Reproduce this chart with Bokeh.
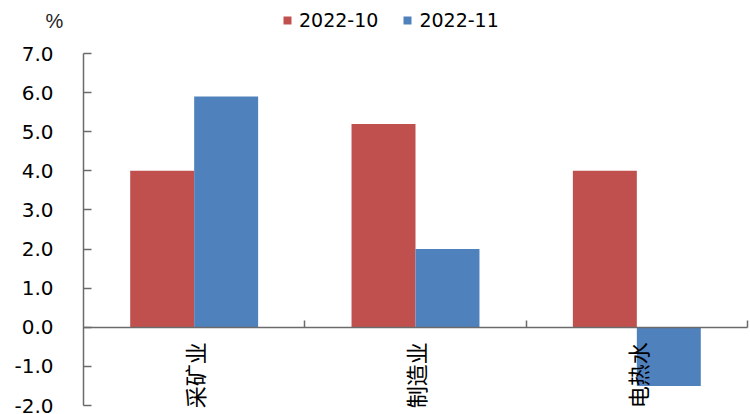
from math import pi
from bokeh.plotting import figure
from bokeh.models import (Range1d, LinearAxis, FixedTicker, Legend, LegendItem, Label,
                          ColumnDataSource, NumeralTickFormatter)
from bokeh.embed import file_html
from bokeh.resources import INLINE

categories = ["采矿业", "制造业", "电热水"]
series_names = ["2022-10", "2022-11"]
values_2022_10 = [4.0, 5.2, 4.0]
values_2022_11 = [5.9, 2.0, -1.5]
y_ticks = [-2, -1, 0, 1, 2, 3, 4, 5, 6, 7]
unit_label = "%"

RED = "#C0504D"
BLUE = "#4F81BD"
AXIS = "#6b6b6b"

W, H = 750, 414
# pixel layout of the plotting area inside the canvas
LEFT_PX, RIGHT_PX, TOP_PX, BOTTOM_PX = 83, 747, 53, 405
n = len(categories)
y_lo, y_hi = y_ticks[0], y_ticks[-1]
px_per_x = (RIGHT_PX - LEFT_PX) / n
px_per_y = (BOTTOM_PX - TOP_PX) / (y_hi - y_lo)

bw = 0.289
centers = [i + 0.5 for i in range(n)]
source = ColumnDataSource(dict(
    cat=categories,
    x1=[c - bw / 2 for c in centers],
    x2=[c + bw / 2 for c in centers],
    s1=values_2022_10, s2=values_2022_11))

p = figure(width=W, height=H,
           x_range=Range1d(-LEFT_PX / px_per_x, (W - LEFT_PX) / px_per_x),
           y_range=Range1d(y_lo - (H - BOTTOM_PX) / px_per_y, y_hi + TOP_PX / px_per_y),
           output_backend="svg", toolbar_location=None,
           x_axis_location=None, y_axis_location=None,
           min_border=0, min_border_left=0, min_border_right=0,
           min_border_top=0, min_border_bottom=0)
p.outline_line_color = None
p.xgrid.visible = False
p.ygrid.visible = False
p.background_fill_color = "white"
p.border_fill_color = "white"

r1 = p.vbar(x="x1", top="s1", width=bw, fill_color=RED, line_color=None, source=source)
r2 = p.vbar(x="x2", top="s2", width=bw, fill_color=BLUE, line_color=None, source=source)

# y axis at x = 0
yaxis = LinearAxis(fixed_location=0, bounds=(y_lo, y_hi), ticker=FixedTicker(ticks=y_ticks),
                   formatter=NumeralTickFormatter(format="0.0"))
yaxis.major_tick_in = 8
yaxis.major_tick_out = 0
yaxis.minor_tick_line_color = None
yaxis.axis_line_color = AXIS
yaxis.axis_line_width = 1.5
yaxis.major_tick_line_color = AXIS
yaxis.major_tick_line_width = 1.5
yaxis.major_label_standoff = 30
yaxis.major_label_text_font = "DejaVu Sans"
yaxis.major_label_text_font_size = "20px"
yaxis.major_label_text_color = "black"
p.add_layout(yaxis, "left")

# category axis at y = 0 (labels at category centres)
xaxis = LinearAxis(fixed_location=0, bounds=(0, n), ticker=FixedTicker(ticks=centers),
                   major_label_overrides={c: name for c, name in zip(centers, categories)})
xaxis.major_tick_in = 0
xaxis.major_tick_out = 0
xaxis.minor_tick_line_color = None
xaxis.axis_line_color = AXIS
xaxis.axis_line_width = 1.5
xaxis.major_label_orientation = pi / 2
xaxis.major_label_standoff = 15
xaxis.major_label_text_font = "Noto Sans CJK SC"
xaxis.major_label_text_font_size = "22px"
xaxis.major_label_text_color = "black"
p.add_layout(xaxis, "below")

# boundary ticks between categories
edges = list(range(1, n + 1))
edge_axis = LinearAxis(fixed_location=0, bounds=(0, n), ticker=FixedTicker(ticks=edges),
                       major_label_overrides={e: "" for e in edges})
edge_axis.axis_line_color = None
edge_axis.major_tick_in = 7
edge_axis.major_tick_out = 0
edge_axis.major_tick_line_color = AXIS
edge_axis.major_tick_line_width = 1.5
edge_axis.minor_tick_line_color = None
p.add_layout(edge_axis, "below")

legend = Legend(items=[LegendItem(label=series_names[0], renderers=[r1]),
                       LegendItem(label=series_names[1], renderers=[r2])],
                orientation="horizontal", location=(282, H - 31),
                glyph_width=10, glyph_height=10, label_standoff=7, spacing=24,
                padding=0, margin=0, border_line_color=None, background_fill_alpha=0,
                label_text_font="DejaVu Sans", label_text_font_size="19px",
                label_text_color="black", label_height=20)
p.add_layout(legend, "center")

p.add_layout(Label(x=54, y=H - 20, x_units="screen", y_units="screen", text=unit_label,
                   text_font="Liberation Sans", text_font_size="20px",
                   text_align="center", text_baseline="middle", text_color="#222222"))

open("out.html", "w").write(file_html(p, INLINE))
